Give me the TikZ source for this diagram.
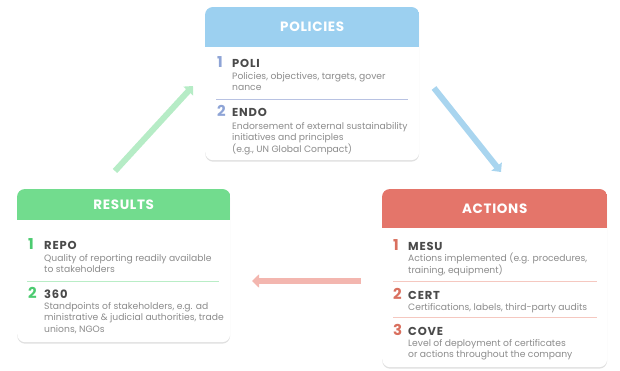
\documentclass[tikz,border=0pt]{standalone}
\usepackage{fontspec}
\setmainfont{Poppins}
\usetikzlibrary{arrows.meta,shadows}
\definecolor{polblue}{HTML}{9CD0F0}
\definecolor{resgreen}{HTML}{72DC8E}
\definecolor{actred}{HTML}{E4756A}
\definecolor{polnum}{HTML}{8EA4D6}
\definecolor{resnum}{HTML}{4CCB70}
\definecolor{actnum}{HTML}{D9705F}
\definecolor{polsep}{HTML}{B8C2E2}
\definecolor{ressep}{HTML}{B9EDC6}
\definecolor{actsep}{HTML}{F5C8C0}
\definecolor{bodygray}{HTML}{8C8C8C}
\definecolor{labgray}{HTML}{4A4A4A}
\definecolor{arrgreen}{HTML}{B6ECC6}
\definecolor{arrblue}{HTML}{A9D5EF}
\definecolor{arrred}{HTML}{F3B6AF}
\tikzset{
  panel/.style={fill=white, rounded corners=8pt, inner sep=0pt, anchor=north west,
    drop shadow={shadow xshift=0pt, shadow yshift=-1.5pt, opacity=0.12, fill=black}},
  head/.style={inner sep=0pt, anchor=north west, text=white,
    font=\fontsize{13.5}{16}\selectfont\bfseries\addfontfeatures{LetterSpace=5}},
  num/.style={anchor=base west, inner sep=0pt, font=\fontsize{15}{15}\selectfont\bfseries},
  lab/.style={anchor=base west, inner sep=0pt, text=labgray,
    font=\fontsize{11.5}{13}\selectfont\bfseries\addfontfeatures{LetterSpace=7}},
  body/.style={anchor=north west, inner sep=0pt, align=left, text=bodygray,
    font=\fontsize{9.2}{11.5}\selectfont},
  sep/.style={line width=0.8pt},
  arr/.style={line width=6pt, -{Triangle[width=13pt,length=7pt]}}
}
\newcommand{\st}{\rule{0pt}{8pt}}
\begin{document}
\begin{tikzpicture}[x=1pt,y=-1pt]
\useasboundingbox (0,0) rectangle (620,371);
% ---------- POLICIES
\node[panel, minimum width=214pt, minimum height=153pt] (pol) at (205,7) {};
\begin{scope}
\clip[rounded corners=8pt] (pol.north west) rectangle (pol.south east);
\node[head, fill=polblue, minimum width=214pt, minimum height=40pt] (polh) at (pol.north west) {POLICIES};
\end{scope}
\node[num, text=polnum] (pn1) at (217,68) {1};
\node[lab] (pl1) at (232,68) {POLI};
\node[body] (pb1) at (232,71) {\st Policies, objectives, targets, gover\\nance};
\draw[sep, polsep] (216,99) -- (408,99);
\node[num, text=polnum] (pn2) at (217,117) {2};
\node[lab] (pl2) at (232,117) {ENDO};
\node[body] (pb2) at (232,121) {\st Endorsement of external sustainability\\initiatives and principles\\(e.g., UN Global Compact)};
% ---------- RESULTS
\node[panel, minimum width=213pt, minimum height=153pt] (res) at (17,189) {};
\begin{scope}
\clip[rounded corners=8pt] (res.north west) rectangle (res.south east);
\node[head, fill=resgreen, minimum width=213pt, minimum height=31pt] (resh) at (res.north west) {RESULTS};
\end{scope}
\node[num, text=resnum] (rn1) at (28,249) {1};
\node[lab] (rl1) at (44,249) {REPO};
\node[body] (rb1) at (44,253) {\st Quality of reporting readily available\\to stakeholders};
\draw[sep, ressep] (27,281) -- (219,281);
\node[num, text=resnum] (rn2) at (28,298) {2};
\node[lab] (rl2) at (44,298) {360};
\node[body] (rb2) at (44,301) {\st Standpoints of stakeholders, e.g. ad\\ministrative \& judicial authorities, trade\\unions, NGOs};
% ---------- ACTIONS
\node[panel, minimum width=225pt, minimum height=178pt] (act) at (382,189) {};
\begin{scope}
\clip[rounded corners=8pt] (act.north west) rectangle (act.south east);
\node[head, fill=actred, minimum width=225pt, minimum height=39pt] (acth) at (act.north west) {ACTIONS};
\end{scope}
\node[num, text=actnum] (an1) at (393,250) {1};
\node[lab] (al1) at (408,250) {MESU};
\node[body] (ab1) at (408,253) {\st Actions implemented (e.g. procedures,\\training, equipment)};
\draw[sep, actsep] (393,281) -- (597,281);
\node[num, text=actnum] (an2) at (393,299) {2};
\node[lab] (al2) at (408,299) {CERT};
\node[body] (ab2) at (408,302) {\st Certifications, labels, third-party audits};
\draw[sep, actsep] (393,317) -- (597,317);
\node[num, text=actnum] (an3) at (393,335) {3};
\node[lab] (al3) at (408,335) {COVE};
\node[body] (ab3) at (408,338) {\st Level of deployment of certificates\\or actions throughout the company};
% ---------- ARROWS
\coordinate (g1) at (115,171);
\coordinate (g2) at (193,86);
\coordinate (b1) at (434,88);
\coordinate (b2) at (501,172);
\coordinate (r1) at (361,281);
\coordinate (r2) at (252,281);
\draw[arr, arrgreen] (g1) -- (g2);
\draw[arr, arrblue] (b1) -- (b2);
\draw[arr, arrred] (r1) -- (r2);
\end{tikzpicture}
\end{document}
